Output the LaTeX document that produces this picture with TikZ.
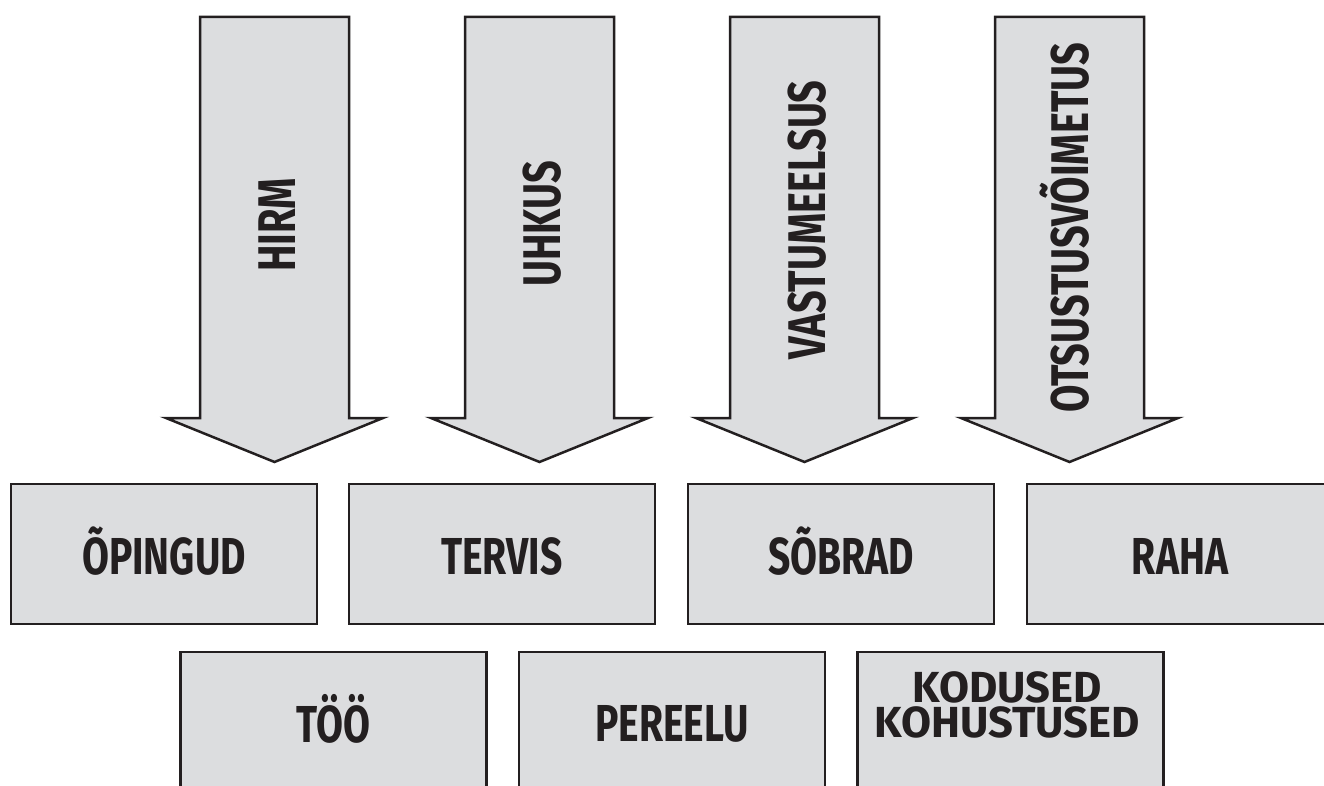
\documentclass[tikz,border=0pt]{standalone}
\usepackage{fontspec}
\newfontfamily\condfont{Fira Sans}[FakeStretch=0.75]
\newfontfamily\lesscondfont{Fira Sans}[FakeStretch=1.0]
\definecolor{boxfill}{HTML}{DCDDDF}
\definecolor{ink}{HTML}{231F20}
\begin{document}
\begin{tikzpicture}[x=1pt,y=-1pt,
  shape box/.style={draw=ink, fill=boxfill, line width=2.5pt, minimum width=306pt, minimum height=140pt, inner sep=0pt},
  bigarrow/.style={draw=ink, fill=boxfill, line width=2.5pt, line join=miter},
  label/.style={text=ink, font=\condfont\bfseries\fontsize{52}{56}\selectfont, inner sep=0pt},
  vlabel/.style={label, rotate=90, anchor=base, font=\condfont\bfseries\fontsize{53}{56}\selectfont},
  hlabel/.style={label, anchor=base},
  smalllabel/.style={hlabel, font=\lesscondfont\bfseries\fontsize{43.5}{35}\selectfont, text height=30pt, text depth=0pt}]
\useasboundingbox (0,0) rectangle (1324,786);
\clip (0,0) rectangle (1324,786);
% arrows
\foreach \cx/\n in {274.5/a1, 539.5/a2, 804.5/a3, 1069.5/a4}{
  \draw[bigarrow] (\cx-74.5,17) -- (\cx+74.5,17) -- (\cx+74.5,418) -- (\cx+108.5,418)
     -- (\cx,462) -- (\cx-108.5,418) -- (\cx-74.5,418) -- cycle;
}
\node[vlabel] (t1) at (295,225) {HIRM};
\node[vlabel] (t2) at (560,224) {UHKUS};
\node[vlabel] (t3) at (825,220) {VASTUMEELSUS};
\node[vlabel] (t4) at (1088,228) {OTSUSTUSVÕIMETUS};
% top row
\node[shape box] (b1) at (164,554) {};
\node[shape box] (b2) at (502,554) {};
\node[shape box] (b3) at (841,554) {};
\node[shape box] (b4) at (1180,554) {};
\node[hlabel] (l1) at (164,574) {ÕPINGUD};
\node[hlabel] (l2) at (502,574) {TERVIS};
\node[hlabel] (l3) at (841,574) {SÕBRAD};
\node[hlabel] (l4) at (1180,574) {RAHA};
% bottom row
\node[shape box] (c1) at (333.5,722) {};
\node[shape box] (c2) at (672,722) {};
\node[shape box] (c3) at (1010.5,722) {};
\node[hlabel] (m1) at (333.5,742) {TÖÖ};
\node[hlabel] (m2) at (672,741) {PEREELU};
\node[smalllabel] (m3a) at (1007,702) {KODUSED};
\node[smalllabel] (m3b) at (1007,737) {KOHUSTUSED};
\end{tikzpicture}
\end{document}
